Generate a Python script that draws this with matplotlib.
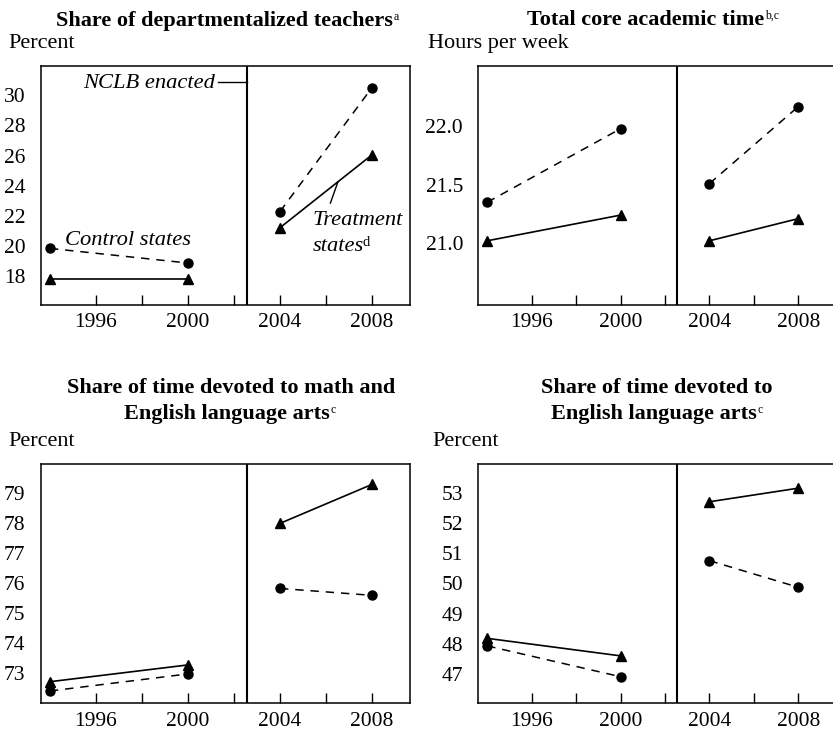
import matplotlib
matplotlib.use("Agg")
import matplotlib.pyplot as plt

plt.rcParams["font.family"] = ["Liberation Serif", "DejaVu Serif"]

# ---------------- data ----------------
years = [1994, 2000, 2004, 2008]
nclb_year = 2002.55
tick_years = [1996, 1998, 2000, 2002, 2004, 2006, 2008]
tick_labels = ["1996", "", "2000", "", "2004", "", "2008"]

dept_control = [19.85, 18.88, 22.29, 30.50]
dept_treat = [17.85, 17.85, 21.22, 26.05]
core_control = [21.35, 21.98, 21.51, 22.17]
core_treat = [21.02, 21.24, 21.02, 21.21]
mathela_control = [72.41, 72.98, 75.83, 75.60]
mathela_treat = [72.72, 73.28, 78.00, 79.30]
ela_control = [47.93, 46.91, 50.75, 49.87]
ela_treat = [48.18, 47.60, 52.70, 53.15]

dept_yticks = [18, 20, 22, 24, 26, 28, 30]
core_yticks = [21.0, 21.5, 22.0]
mathela_yticks = [73, 74, 75, 76, 77, 78, 79]
ela_yticks = [47, 48, 49, 50, 51, 52, 53]

W, H = 833, 732
fig = plt.figure(figsize=(W / 100, H / 100), dpi=100)
renderer = fig.canvas.get_renderer()


def axes_px(left, right, top, bottom):
    return fig.add_axes([left / W, 1 - bottom / H, (right - left) / W, (bottom - top) / H])


def fx(x):
    return x / W


def fy(y):
    return 1 - y / H


def draw_panel(ax, control, treat, yticks, ylim, fmt):
    for seg in (slice(0, 2), slice(2, 4)):
        ax.plot(years[seg], treat[seg], color="black", lw=1.2, ls="-",
                marker="^", ms=6.5, mfc="black", mec="black")
        ax.plot(years[seg], control[seg], color="black", lw=1.1, ls=(0, (5.5, 4.5)),
                marker="o", ms=6.5, mfc="black", mec="black")
    ax.axvline(nclb_year, color="black", lw=1.5)
    ax.set_xlim(1993.6, 2009.65)
    ax.set_ylim(*ylim)
    ax.set_xticks(tick_years)
    ax.set_xticklabels(tick_labels)
    ax.set_yticks(yticks)
    ax.set_yticklabels([fmt.format(v) for v in yticks])
    ax.tick_params(axis="x", direction="in", length=7, width=1.0, labelsize=15.5, pad=6)
    ax.tick_params(axis="y", length=0, labelsize=15.5, pad=11)
    for s in ax.spines.values():
        s.set_linewidth(1.1)


ax1 = axes_px(40.7, 410, 65.7, 305)
draw_panel(ax1, dept_control, dept_treat, dept_yticks, (16.1, 31.95), "{:.0f}")
ax2 = axes_px(478.3, 835, 65.7, 305)
draw_panel(ax2, core_control, core_treat, core_yticks, (20.47, 22.52), "{:.1f}")
ax3 = axes_px(40.7, 410, 464.3, 703.3)
draw_panel(ax3, mathela_control, mathela_treat, mathela_yticks, (72.0, 79.97), "{:.0f}")
ax4 = axes_px(478.3, 835, 464.3, 703.3)
draw_panel(ax4, ela_control, ela_treat, ela_yticks, (46.03, 53.94), "{:.0f}")


def add_sup(t, base_disp_y, s, size, raise_px, gap_px=0.8, **kw):
    bb = t.get_window_extent(renderer)
    fig.text((bb.x1 + gap_px) / W, (base_disp_y + raise_px) / H, s,
             ha="left", va="baseline", fontsize=size, **kw)


# ---------------- titles ----------------
tkw = dict(ha="center", va="baseline", fontsize=16, fontweight="bold")
t = fig.text(fx(224.5), fy(26), "Share of departmentalized teachers", **tkw)
add_sup(t, fy(26) * H, "a", 8.5, 6)
t = fig.text(fx(646), fy(25), "Total core academic time", **tkw)
add_sup(t, fy(25) * H, "b,c", 8.5, 6)
fig.text(fx(231), fy(392.7), "Share of time devoted to math and", **tkw)
t = fig.text(fx(226.5), fy(419.3), "English language arts", **tkw)
add_sup(t, fy(419.3) * H, "c", 8.5, 6)
fig.text(fx(657), fy(392.7), "Share of time devoted to", **tkw)
t = fig.text(fx(654), fy(419.3), "English language arts", **tkw)
add_sup(t, fy(419.3) * H, "c", 8.5, 6)

lkw = dict(ha="left", va="baseline", fontsize=16)
fig.text(fx(8), fy(48.3), "Percent", **lkw)
fig.text(fx(428), fy(48.3), "Hours per week", **lkw)
fig.text(fx(8), fy(446), "Percent", **lkw)
fig.text(fx(432), fy(446), "Percent", **lkw)

# ---------------- annotations (panel 1) ----------------
akw = dict(va="baseline", fontsize=16.2, style="italic")
ax1.text(2001.17, 30.44, "NCLB enacted", ha="right", **akw)
ax1.plot([2001.3, nclb_year], [30.88, 30.88], color="black", lw=1.0)
ax1.text(1994.67, 20.09, "Control states", ha="left", **akw)
ax1.text(2005.42, 21.41, "Treatment", ha="left", **akw)
t = ax1.text(2005.42, 19.65, "states", ha="left", **akw)
base_y = ax1.transData.transform((2005.42, 19.65))[1]
add_sup(t, base_y, "d", 10.5, 5, gap_px=-1.5)
ax1.plot([2006.19, 2006.51], [22.85, 24.22], color="black", lw=1.0)

fig.savefig("out.png", dpi=100)
